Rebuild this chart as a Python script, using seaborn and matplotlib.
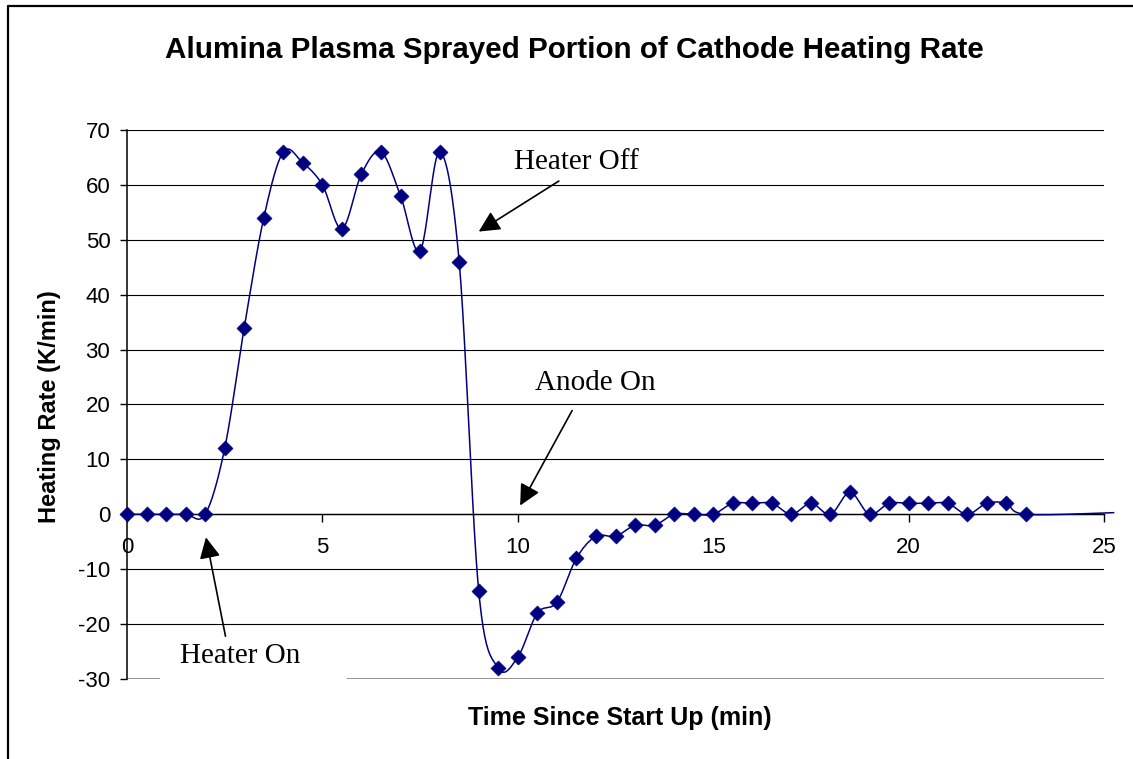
import numpy as np
import matplotlib
matplotlib.use("Agg")
import matplotlib.pyplot as plt
from matplotlib.lines import Line2D
from matplotlib.patches import Rectangle
import seaborn as sns

# Data (every half minute)
time_min = [0, 0.5, 1, 1.5, 2, 2.5, 3, 3.5, 4, 4.5, 5, 5.5, 6, 6.5, 7, 7.5, 8, 8.5,
            9, 9.5, 10, 10.5, 11, 11.5, 12, 12.5, 13, 13.5, 14, 14.5, 15, 15.5,
            16, 16.5, 17, 17.5, 18, 18.5, 19, 19.5, 20, 20.5, 21, 21.5, 22, 22.5, 23]
heating_rate = [0, 0, 0, 0, 0, 12, 34, 54, 66, 64, 60, 52, 62, 66, 58, 48, 66, 46,
                -14, -28, -26, -18, -16, -8, -4, -4, -2, -2, 0, 0, 0, 2,
                2, 2, 0, 2, 0, 4, 0, 2, 2, 2, 2, 0, 2, 2, 0]
# line keeps going past the last marker
tail_time = [25.25]
tail_rate = [0.3]

x_ticks = [0, 5, 10, 15, 20, 25]
y_ticks = [-30, -20, -10, 0, 10, 20, 30, 40, 50, 60, 70]

title = "Alumina Plasma Sprayed Portion of Cathode Heating Rate"
x_label = "Time Since Start Up (min)"
y_label = "Heating Rate (K/min)"

NAVY = "#000080"


def smooth_curve(x, y, n=24):
    # Excel style smoothed line: Bezier through points, Catmull-Rom controls
    pts = np.column_stack([x, y]).astype(float)
    out = [pts[0]]
    for i in range(len(pts) - 1):
        p0 = pts[i - 1] if i > 0 else pts[i]
        p1 = pts[i]
        p2 = pts[i + 1]
        p3 = pts[i + 2] if i + 2 < len(pts) else pts[i + 1]
        c1 = p1 + (p2 - p0) / 6
        c2 = p2 - (p3 - p1) / 6
        t = np.linspace(0, 1, n)[1:, None]
        seg = ((1 - t) ** 3) * p1 + 3 * ((1 - t) ** 2) * t * c1 \
            + 3 * (1 - t) * t ** 2 * c2 + t ** 3 * p2
        out.extend(seg)
    out = np.array(out)
    return out[:, 0], out[:, 1]


sns.set_style("white")
plt.rcParams["font.family"] = ["Liberation Sans", "DejaVu Sans"]
for k in ["text.color", "axes.labelcolor", "xtick.color", "ytick.color"]:
    plt.rcParams[k] = "black"

fig = plt.figure(figsize=(11.33, 7.59), dpi=100)
ax = fig.add_axes([127 / 1133, 1 - 679 / 759, 977 / 1133, 549 / 759])

sx, sy = smooth_curve(time_min + tail_time, heating_rate + tail_rate)
sns.lineplot(x=sx, y=sy, sort=False, estimator=None, color=NAVY, lw=1.1,
             ax=ax, zorder=3, clip_on=False)
sns.scatterplot(x=time_min, y=heating_rate, marker="D", s=58, color=NAVY,
                edgecolor=NAVY, linewidth=0.5, ax=ax, zorder=4, clip_on=False)

ax.set_xlim(0, 25)
ax.set_ylim(-30, 70)
ax.set_xticks(x_ticks)
ax.set_yticks(y_ticks)
ax.set_xticklabels([str(v) for v in x_ticks])
ax.set_yticklabels([str(v) for v in y_ticks])

# Excel look: horizontal black gridlines, x axis crossing at zero
ax.grid(axis="y", color="black", lw=0.8)
ax.grid(axis="x", visible=False)
ax.yaxis.get_gridlines()[0].set_color("#808080")
ax.yaxis.get_gridlines()[0].set_linewidth(1.2)
for s in ["top", "right"]:
    ax.spines[s].set_visible(False)
ax.spines["bottom"].set_position(("data", 0))
ax.spines["bottom"].set_linewidth(1.0)
ax.spines["left"].set_linewidth(1.1)
ax.spines["left"].set_color("black")
ax.spines["bottom"].set_color("black")
ax.tick_params(axis="x", direction="out", length=6, width=1, pad=10,
               labelsize=16, bottom=True)
ax.tick_params(axis="y", direction="out", length=5, width=1, pad=7,
               labelsize=16, left=True)

ax.set_xlabel("")
ax.set_ylabel("")
fig.text(620 / 1133, 1 - 718 / 759, x_label, ha="center", va="center",
         fontsize=18, fontweight="bold")
fig.text(50 / 1133, 1 - 407 / 759, y_label, ha="center", va="center",
         rotation=90, fontsize=17, fontweight="bold")
fig.text(574 / 1133, 1 - 50 / 759, title, ha="center", va="center",
         fontsize=21.3, fontweight="bold")

# annotations
serif = ["Liberation Serif", "DejaVu Serif"]
arrow = dict(arrowstyle="-|>", color="black", lw=1.2, mutation_scale=32,
             shrinkA=0, shrinkB=0)
ax.annotate("", xy=(9.0, 51.5), xytext=(11.05, 60.7), arrowprops=arrow)
ax.text(11.51, 64.1, "Heater Off", family=serif, fontsize=21,
        ha="center", va="center")
ax.annotate("", xy=(10.06, 1.6), xytext=(11.39, 18.9), arrowprops=arrow)
ax.text(11.98, 23.9, "Anode On", family=serif, fontsize=21,
        ha="center", va="center")

# white text box of "Heater On" covers the bottom gridline
ax.add_patch(Rectangle((0.84, -30.3), 4.79, 8.1, facecolor="white",
                       edgecolor="none", zorder=5, clip_on=False))
ax.annotate("", xy=(2.02, -4.2), xytext=(2.52, -22.2), arrowprops=arrow,
            zorder=6)
ax.text(2.89, -25.9, "Heater On", family=serif, fontsize=21,
        ha="center", va="center", zorder=7)

# chart area frame (runs off the right and bottom edges)
fy = 1 - 6 / 759
fx = 8 / 1133
fig.add_artist(Line2D([fx, fx], [0, fy], color="black", lw=1.6))
fig.add_artist(Line2D([fx, 1], [fy, fy], color="black", lw=1.6))

fig.savefig("out.png", dpi=100)
